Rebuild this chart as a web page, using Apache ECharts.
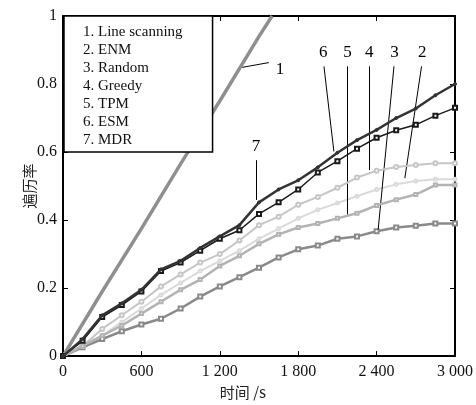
<!DOCTYPE html>
<html>
<head>
<meta charset="utf-8">
<script src="https://cdn.jsdelivr.net/npm/echarts@6/dist/echarts.min.js"></script>
<style>html,body{margin:0;padding:0;background:#fff}#c{width:476px;height:405px}</style>
</head>
<body>
<div id="c"></div>
<script>
// ---- data ----
const seriesNames = ['1. Line scanning','2. ENM','3. Random','4. Greedy','5. TPM','6. ESM','7. MDR'];
const timeSteps = [0,150,300,450,600,750,900,1050,1200,1350,1500,1650,1800,1950,2100,2250,2400,2550,2700,2850,3000];
const lineScanT = [0,300,600,900,1200,1500,1600];
const lineScanV = [0,0.19,0.375,0.565,0.75,0.94,1.0];
const enm    = [0,0.025,0.06,0.10,0.14,0.18,0.215,0.25,0.28,0.31,0.345,0.375,0.405,0.43,0.45,0.47,0.49,0.505,0.515,0.52,0.52];
const random = [0,0.026,0.05,0.073,0.093,0.11,0.14,0.175,0.205,0.232,0.26,0.29,0.314,0.325,0.345,0.352,0.367,0.378,0.383,0.39,0.39];
const greedy = [0,0.03,0.08,0.12,0.16,0.205,0.24,0.275,0.30,0.34,0.385,0.41,0.445,0.468,0.495,0.525,0.545,0.556,0.562,0.567,0.567];
const tpm    = [0,0.03,0.06,0.09,0.125,0.16,0.195,0.225,0.265,0.295,0.33,0.358,0.378,0.39,0.405,0.42,0.443,0.46,0.475,0.503,0.503];
const esm    = [0,0.045,0.115,0.15,0.19,0.25,0.275,0.31,0.345,0.37,0.418,0.452,0.49,0.54,0.573,0.61,0.642,0.664,0.68,0.707,0.73];
const mdr    = [0,0.05,0.12,0.155,0.195,0.255,0.28,0.318,0.352,0.385,0.452,0.49,0.517,0.555,0.598,0.635,0.665,0.70,0.728,0.767,0.80];
const xTickLabels = ['0','600','1 200','1 800','2 400','3 000'];
const yTickLabels = ['0','0.2','0.4','0.6','0.8','1'];
// annotation leaders: label text, start (near label) and end (on curve), in data units
const annoText = ['1','2','3','4','5','6','7'];
const annoFrom = [[1575,0.863],[2744,0.852],[2533,0.852],[2344,0.852],[2178,0.852],[1997,0.852],[1477,0.576]];
const annoTo   = [[1372,0.849],[2616,0.523],[2412,0.372],[2344,0.547],[2178,0.416],[2073,0.602],[1477,0.459]];

const serif = '"Liberation Serif","Times New Roman",serif';
const pair = (xs, ys) => xs.map((x,i)=>[x, ys[i]]);
const seriesData = [pair(lineScanT,lineScanV), pair(timeSteps,enm), pair(timeSteps,random), pair(timeSteps,greedy), pair(timeSteps,tpm), pair(timeSteps,esm), pair(timeSteps,mdr)];
const styles = [
  {color:'#8f8f8f', width:3.5, symbol:'none', size:0},
  {color:'#dadada', width:2, symbol:'emptyCircle', size:3},
  {color:'#8a8a8a', width:2.5, symbol:'emptyRect', size:4},
  {color:'#c6c6c6', width:2, symbol:'emptyCircle', size:4},
  {color:'#b3b3b3', width:2.5, symbol:'emptyRect', size:3},
  {color:'#1a1a1a', width:1.5, symbol:'emptyRect', size:4},
  {color:'#333333', width:2.5, symbol:'circle', size:3}
];
const labelOffsets = [[2,8],[0,0],[0,0],[0,0],[0,0],[0,0],[0,0]];

const series = seriesNames.map((name,i)=>({
  name, type:'line', data: seriesData[i],
  symbol: styles[i].symbol, symbolSize: styles[i].size, showSymbol: styles[i].symbol!=='none',
  lineStyle:{color:styles[i].color, width:styles[i].width},
  itemStyle:{color:styles[i].color, borderColor:styles[i].color, borderWidth:1},
  z: 2+i, animation:false,
  markLine:{
    silent:true, symbol:['none','none'], animation:false,
    lineStyle:{color:'#000', width:1, type:'solid'},
    label:{show:true, position:'start', formatter: annoText[i], color:'#000', fontFamily:serif, fontSize:17, offset: labelOffsets[i]},
    data:[[{coord:annoFrom[i]},{coord:annoTo[i]}]]
  }
}));

const chart = echarts.init(document.getElementById('c'), null, {renderer:'canvas'});
const axisCommon = {
  axisLine:{show:true, onZero:false, lineStyle:{color:'#000', width:2}},
  axisTick:{show:true, inside:true, length:5, lineStyle:{color:'#000', width:1}},
  splitLine:{show:false}
};
chart.setOption({
  animation:false,
  backgroundColor:'#fff',
  grid:{left:63, right:15, top:16, bottom:45, containLabel:false},
  legend:{
    show:true, orient:'vertical', left:64, top:16, icon:'none', itemWidth:0, itemHeight:14, itemGap:0,
    selectedMode:false, backgroundColor:'#fff', borderColor:'#000', borderWidth:1.5,
    padding:[7,30,3,14], z:20,
    textStyle:{color:'#111', fontFamily:serif, fontSize:15, lineHeight:18},
    data: seriesNames
  },
  xAxis:[
    Object.assign({type:'value', min:0, max:3000, interval:600, position:'bottom',
      name:'时间 /s', nameLocation:'middle', nameGap:25,
      nameTextStyle:{color:'#222', fontFamily:'"Noto Sans CJK SC",sans-serif', fontSize:15, padding:[0,32,0,0]},
      axisLabel:{color:'#111', fontFamily:serif, fontSize:16, margin:8, formatter:(v,i)=>xTickLabels[i]}}, axisCommon),
    Object.assign({type:'value', min:0, max:3000, interval:600, position:'top', axisLabel:{show:false}}, axisCommon)
  ],
  yAxis:[
    Object.assign({type:'value', min:0, max:1, interval:0.2, position:'left',
      name:'遍历率', nameLocation:'middle', nameGap:26, nameRotate:90, nameMoveOverlap:false,
      nameTextStyle:{color:'#222', fontFamily:'"Noto Sans CJK SC",sans-serif', fontSize:15},
      axisLabel:{color:'#111', fontFamily:serif, fontSize:16, margin:6, formatter:(v,i)=>yTickLabels[i]}}, axisCommon),
    Object.assign({type:'value', min:0, max:1, interval:0.2, position:'right', axisLabel:{show:false}}, axisCommon)
  ],
  series
});
</script>
</body>
</html>
